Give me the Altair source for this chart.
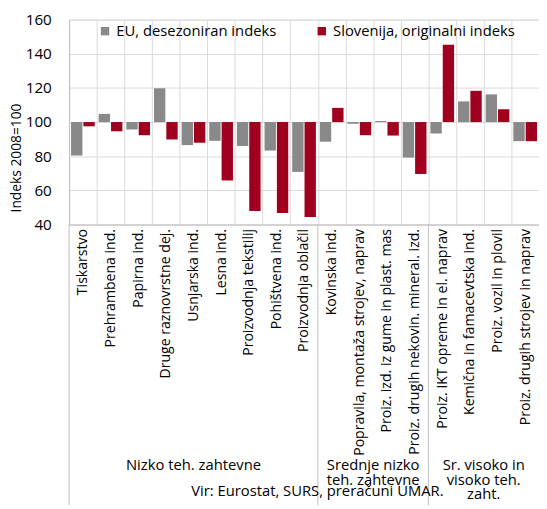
import altair as alt
import pandas as pd

categories = [
    "Tiskarstvo", "Prehrambena ind.", "Papirna ind.", "Druge raznovrstne dej.",
    "Usnjarska ind.", "Lesna ind.", "Proizvodnja tekstilij", "Pohištvena ind.",
    "Proizvodnja oblačil", "Kovinska ind.", "Popravila, montaža strojev, naprav",
    "Proiz. izd. iz gume in plast. mas", "Proiz. drugih nekovin. mineral. izd.",
    "Proiz. IKT opreme in el. naprav", "Kemična in famacevtska ind.",
    "Proiz. vozil in plovil", "Proiz. drugih strojev in naprav",
]
series_names = ["EU, desezoniran indeks", "Slovenija, originalni indeks"]
eu_values = [80.4, 104.8, 95.6, 119.8, 86.5, 89.0, 86.0, 83.3, 70.8,
             88.5, 99.0, 100.6, 79.2, 93.3, 112.1, 116.2, 88.8]
si_values = [97.5, 94.6, 92.3, 89.8, 87.9, 65.8, 47.9, 46.7, 44.4,
             108.3, 92.3, 92.1, 69.6, 145.2, 118.3, 107.5, 88.8]
y_ticks = [40, 60, 80, 100, 120, 140, 160]

group_starts = ["Tiskarstvo", "Kovinska ind.", "Proiz. IKT opreme in el. naprav"]
group_center_cat = ["Usnjarska ind."]
group_center_label = ["Nizko teh. zahtevne"]
group_edge_cat = ["Proiz. izd. iz gume in plast. mas", "Proiz. vozil in plovil"]
group_edge_label = ["Srednje nizko\nteh. zahtevne", "Sr. visoko in\nvisoko teh.\nzaht."]
source_text = "Vir: Eurostat, SURS, preračuni UMAR."

GRAY = "#898989"
RED = "#a0001e"
FONT = "Open Sans"

rows = []
for c, e, s in zip(categories, eu_values, si_values):
    rows.append({"category": c, "series": series_names[0], "value": e})
    rows.append({"category": c, "series": series_names[1], "value": s})
df = pd.DataFrame(rows)

xscale = alt.Scale(domain=categories, paddingInner=0, paddingOuter=0)

bars = alt.Chart(df).mark_bar().encode(
    x=alt.X("category:N", scale=xscale, sort=categories, title=None,
            axis=alt.Axis(labelAngle=270, labelAlign="right", labelBaseline="middle",
                          labelPadding=4, labelFontSize=14.3, labelLimit=400,
                          ticks=False, tickSize=0, tickBand="extent", grid=True,
                          gridColor="#d9d9d9", domainColor="#bfbfbf",
                          labelColor="#000000", labelFont=FONT)),
    xOffset=alt.XOffset("series:N", sort=series_names,
                        scale=alt.Scale(domain=series_names, paddingInner=0.08, paddingOuter=0.16)),
    y=alt.Y("value:Q", scale=alt.Scale(domain=[40, 160], nice=False, zero=False),
            axis=alt.Axis(values=y_ticks, title="Indeks 2008=100", ticks=False, tickSize=0,
                          labelPadding=18, labelFontSize=15.5, labelFont=FONT, labelColor="#000000",
                          grid=True, gridColor="#d9d9d9", domainColor="#bfbfbf",
                          titleFont=FONT, titleFontSize=14, titleFontWeight="normal",
                          titleColor="#000000", titleAngle=270, titleAlign="center",
                          titleBaseline="middle", titleX=-53, titleY=140)),
    y2=alt.Y2Datum(100),
    color=alt.Color("series:N", scale=alt.Scale(domain=series_names, range=[GRAY, RED]),
                    legend=alt.Legend(orient="none", legendX=29, legendY=4, direction="horizontal",
                                      title=None, symbolType="square", symbolSize=72,
                                      symbolStrokeWidth=0, symbolOpacity=1,
                                      labelFontSize=15, labelFont=FONT, labelColor="#000000",
                                      labelLimit=400,
                                      columnPadding=38, labelOffset=4, padding=0)),
)

sep_df = pd.DataFrame({"category": group_starts})
seps = alt.Chart(sep_df).mark_rule(color="#bfbfbf", strokeWidth=1).encode(
    x=alt.X("category:N", scale=xscale, sort=categories, bandPosition=0),
    y=alt.value(208),
    y2=alt.value(493),
)

gc_df = pd.DataFrame({"category": group_center_cat, "label": group_center_label})
gtext1 = alt.Chart(gc_df).mark_text(font=FONT, fontSize=15, color="#000000",
                                    baseline="alphabetic", align="center",
                                    lineBreak="\n", lineHeight=15).encode(
    x=alt.X("category:N", scale=xscale, sort=categories, bandPosition=0.5),
    y=alt.value(457),
    text="label:N",
)
ge_df = pd.DataFrame({"category": group_edge_cat, "label": group_edge_label})
gtext2 = alt.Chart(ge_df).mark_text(font=FONT, fontSize=15, color="#000000",
                                    baseline="alphabetic", align="center",
                                    lineBreak="\n", lineHeight=15).encode(
    x=alt.X("category:N", scale=xscale, sort=categories, bandPosition=0),
    y=alt.value(457),
    text="label:N",
)
src_df = pd.DataFrame({"label": [source_text]})
src = alt.Chart(src_df).mark_text(font=FONT, fontSize=15, color="#000000",
                                  baseline="alphabetic", align="center").encode(
    x=alt.value(252),
    y=alt.value(484),
    text="label:N",
)

chart = alt.layer(bars, seps, gtext1, gtext2, src).properties(
    width=477, height=208,
    autosize=alt.AutoSizeParams(type="none"),
    padding={"left": 62, "top": 8, "right": 0, "bottom": 285},
).configure_view(stroke="#bfbfbf").configure(background="white")

chart.save("out.html", embed_options={"renderer": "svg", "actions": False})
